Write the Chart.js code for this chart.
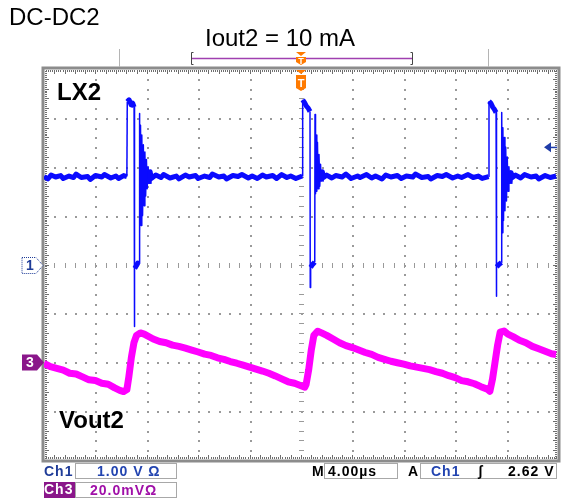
<!DOCTYPE html>
<html>
<head>
<meta charset="utf-8">
<title>DC-DC2 LX2 / Vout2</title>
<script src="https://cdn.jsdelivr.net/npm/chart.js@4.4.1/dist/chart.umd.min.js"></script>
<style>
  html, body { margin: 0; padding: 0; background: #fff; }
  #wrap { position: relative; width: 566px; height: 502px; overflow: hidden;
          font-family: "Liberation Sans", Arial, sans-serif; color: #000; }
  #scope { position: absolute; left: 0; top: 0; }
  .lbl { position: absolute; white-space: nowrap; line-height: 1; }
  .ro { position: absolute; white-space: nowrap; line-height: 14px; font-size: 14px;
        font-weight: bold; letter-spacing: 1px; }
  .box { position: absolute; box-sizing: border-box; border: 1px solid #a8a8a8; height: 16px; }
</style>
</head>
<body>
<div id="wrap">
  <canvas id="scope" width="566" height="502"></canvas>

  <div class="lbl" style="left:9px;top:5px;font-size:24px">DC-DC2</div>
  <div class="lbl" style="left:205px;top:26px;font-size:24px">Iout2 = 10 mA</div>
  <div class="lbl" style="left:57px;top:80px;font-size:24px;font-weight:bold">LX2</div>
  <div class="lbl" style="left:59px;top:408px;font-size:24px;font-weight:bold">Vout2</div>

  <!-- readouts -->
  <div class="ro" style="left:44px;top:464px;color:#1f3c98">Ch1</div>
  <div class="box" style="left:75px;top:463px;width:102px"></div>
  <div class="ro" style="left:97px;top:464px;color:#2244b0">1.00 V Ω</div>

  <div class="ro" style="left:312px;top:464px">M</div>
  <div class="box" style="left:324px;top:463px;width:74px"></div>
  <div class="ro" style="left:328px;top:464px">4.00µs</div>

  <div class="ro" style="left:408px;top:464px">A</div>
  <div class="box" style="left:420px;top:463px;width:137px"></div>
  <div class="ro" style="left:431px;top:464px;color:#2244b0">Ch1</div>
  <div class="ro" style="left:478px;top:464px">ʃ</div>
  <div class="ro" style="left:508px;top:464px">2.62 V</div>

  <div class="ro" style="left:44px;top:482px;width:31px;height:16px;background:#8a168a;color:#fff">Ch3</div>
  <div class="box" style="left:75px;top:482px;width:102px"></div>
  <div class="ro" style="left:90px;top:483px;color:#a010a8">20.0mVΩ</div>
</div>

<script>
// screen: 10 x 8 divisions
const timeRange = [0, 40];      // µs (4.00 µs/div)
const ch1Range = [-4, 4];       // V  (1.00 V/div, ground at centre)
const ch3Range = [-40, 120];    // mV (20.0 mV/div, ground 2 div below centre)
const xDivs = 10;
const yDivs = 8;
const trigTime = 20;            // µs, trigger point "T"
const trigMarkV = 2.4;          // V, where the trigger level arrow sits on screen

// LX2 switching node, Ch1 [µs, V]
const lxSamples = [
  [0, 1.80], [0.3, 1.75], [0.55, 1.83], [0.9, 1.79], [1.3, 1.82], [1.5, 1.76], [1.95, 1.81],
  [2.3, 1.78], [2.5, 1.85], [2.9, 1.78], [3.4, 1.80], [3.6, 1.74], [4.0, 1.82], [4.5, 1.79],
  [4.7, 1.84], [5.2, 1.77], [5.6, 1.81], [5.8, 1.76], [6.2, 1.82], [6.45, 1.80],
  // pulse 1
  [6.48, 3.33], [6.62, 3.37], [6.78, 3.27], [6.9, 3.30], [7.01, 3.22], [7.03, -1.27],
  [7.06, -0.08], [7.2, -0.02], [7.3, 0.03], [7.40, 0.02], [7.42, 3.09], [7.46, 0.61],
  [7.51, 2.85], [7.56, 0.80], [7.61, 2.65], [7.67, 1.0], [7.73, 2.45], [7.79, 1.2],
  [7.85, 2.3], [7.91, 1.4], [7.97, 2.15], [8.03, 1.55], [8.1, 2.0], [8.18, 1.65],
  [8.26, 1.9], [8.35, 1.76],
  [8.7, 1.83], [9.1, 1.78], [9.3, 1.84], [9.8, 1.77], [10.3, 1.81], [10.5, 1.75],
  [11.0, 1.83], [11.3, 1.79], [11.8, 1.82], [12.0, 1.76], [12.5, 1.81], [12.9, 1.78],
  [13.1, 1.85], [13.6, 1.79], [14.0, 1.81], [14.2, 1.75], [14.7, 1.82], [15.1, 1.80],
  [15.4, 1.84], [15.9, 1.77], [16.2, 1.81], [16.6, 1.76], [17.0, 1.83], [17.3, 1.79],
  [17.8, 1.82], [18.1, 1.76], [18.5, 1.84], [18.9, 1.78], [19.2, 1.81], [19.6, 1.76],
  [20.1, 1.81],
  // pulse 2
  [20.13, 3.37], [20.28, 3.31], [20.42, 3.24], [20.56, 3.20], [20.70, 3.13], [20.72, -0.47],
  [20.75, -0.06], [20.9, 0.0], [21.07, 0.05], [21.09, 3.07], [21.13, 1.45], [21.18, 2.65],
  [21.23, 1.5], [21.28, 2.5], [21.34, 1.55], [21.40, 2.25], [21.46, 1.6], [21.52, 2.05],
  [21.58, 1.7], [21.66, 1.9], [21.75, 1.78],
  [22.0, 1.83], [22.4, 1.77], [22.7, 1.82], [23.2, 1.79], [23.5, 1.85], [23.9, 1.76],
  [24.4, 1.81], [24.6, 1.78], [25.1, 1.84], [25.5, 1.77], [25.8, 1.81], [26.3, 1.75],
  [26.6, 1.83], [27.0, 1.79], [27.5, 1.82], [27.8, 1.76], [28.2, 1.81], [28.7, 1.79],
  [28.9, 1.85], [29.4, 1.78], [29.9, 1.80], [30.1, 1.75], [30.6, 1.82], [31.0, 1.80],
  [31.3, 1.84], [31.8, 1.77], [32.2, 1.81], [32.5, 1.78], [33.0, 1.84], [33.4, 1.78],
  [33.8, 1.81], [34.1, 1.76], [34.6, 1.80],
  // pulse 3
  [34.63, 3.34], [34.78, 3.30], [34.92, 3.22], [35.06, 3.17], [35.18, 3.11], [35.20, -0.65],
  [35.23, -0.05], [35.4, 0.0], [35.6, 0.04], [35.62, 3.11], [35.66, 0.65], [35.71, 2.8],
  [35.76, 0.9], [35.81, 2.6], [35.87, 1.1], [35.93, 2.4], [35.99, 1.3], [36.05, 2.2],
  [36.11, 1.5], [36.18, 2.0], [36.26, 1.65], [36.35, 1.88], [36.45, 1.78],
  [36.7, 1.83], [37.1, 1.77], [37.4, 1.84], [37.9, 1.79], [38.3, 1.81], [38.5, 1.75],
  [39.0, 1.82], [39.4, 1.78], [39.85, 1.81],
];

// Vout2 ripple, Ch3 AC [µs, mV]
const voutSamples = [
  [0, -0.5], [0.5, -1.8], [1, -2.5], [1.5, -3.2], [2, -4.5], [2.5, -4.8], [3, -6.0],
  [3.5, -7.2], [4, -7.5], [4.5, -8.6], [5, -9.0], [5.5, -10.5], [5.9, -11.5], [6.2, -12.0],
  [6.45, -11.2], [6.6, -6], [6.8, 2], [7.0, 8], [7.2, 11], [7.5, 12], [7.8, 11.5],
  [8.5, 9.5], [9, 8.5], [9.5, 8], [10, 7], [10.5, 6.5], [11, 5.8], [11.5, 5], [12, 4.2],
  [12.5, 3.3], [13, 2.8], [13.5, 1.8], [14, 1.2], [14.5, 0.3], [15, -0.4], [15.5, -1.2],
  [16, -2.0], [16.5, -2.8], [17, -3.6], [17.5, -4.5], [18, -5.6], [18.5, -6.8], [19, -8.0],
  [19.5, -8.6], [20, -9.6], [20.3, -10.2], [20.4, -9], [20.6, -3], [20.8, 5], [21, 11],
  [21.3, 12.7], [21.6, 12], [22, 11], [22.5, 9.5], [23, 8], [23.5, 6.8], [24, 6], [24.5, 5],
  [25, 4], [25.5, 3.2], [26, 2], [26.5, 1.2], [27, 0.4], [27.5, -0.2], [28, -0.8],
  [28.5, -1.5], [29, -2], [29.5, -2.5], [30, -3], [30.5, -3.8], [31, -4.5], [31.5, -5.5],
  [32, -6.3], [32.5, -7.5], [33, -8], [33.5, -8.8], [34, -10], [34.5, -11], [34.7, -11.9],
  [34.9, -7], [35.1, 0], [35.3, 7], [35.5, 12.3], [35.8, 12.8], [36.1, 11.5], [36.5, 10.5],
  [37, 9], [37.5, 8], [38, 6.5], [38.5, 5.5], [39, 4.5], [39.5, 3.5], [39.85, 3.2],
];

const LX_BLUE = "#0a0aff";
const VOUT_MAGENTA = "#ff00ff";
const GRID_DOT = "#9a9a9a";

function pentagon(ctx, x0, y, w, h) {
  ctx.beginPath();
  ctx.moveTo(x0, y - h / 2);
  ctx.lineTo(x0 + w - 7, y - h / 2);
  ctx.lineTo(x0 + w, y);
  ctx.lineTo(x0 + w - 7, y + h / 2);
  ctx.lineTo(x0, y + h / 2);
  ctx.closePath();
}

function trigFlag(ctx, x, top, h) {
  ctx.beginPath();
  ctx.moveTo(x - 5, top);
  ctx.lineTo(x + 5, top);
  ctx.lineTo(x, top + 4);
  ctx.closePath();
  ctx.fill();
  ctx.beginPath();
  ctx.moveTo(x - 5, top + 5);
  ctx.lineTo(x + 5, top + 5);
  ctx.lineTo(x + 5, top + h - 3);
  ctx.lineTo(x, top + h);
  ctx.lineTo(x - 5, top + h - 3);
  ctx.closePath();
  ctx.fill();
}

const scopeDecor = {
  id: "scopeDecor",
  beforeDatasetsDraw(chart) {
    const { ctx, chartArea: a, scales } = chart;
    const xs = scales.x, ys = scales.y;
    const tDiv = (timeRange[1] - timeRange[0]) / xDivs;
    const vDiv = (ch1Range[1] - ch1Range[0]) / yDivs;
    ctx.save();
    ctx.fillStyle = GRID_DOT;
    // vertical graticule lines: dots every minor division
    for (let d = 1; d < xDivs; d++) {
      const px = Math.round(xs.getPixelForValue(timeRange[0] + d * tDiv));
      for (let m = 1; m < yDivs * 5; m++) {
        const py = Math.round(ys.getPixelForValue(ch1Range[0] + (m * vDiv) / 5));
        if (d === xDivs / 2) ctx.fillRect(px - 2, py, 5, 1);
        else ctx.fillRect(px, py, 2, 2);
      }
    }
    // horizontal graticule lines
    for (let d = 1; d < yDivs; d++) {
      const py = Math.round(ys.getPixelForValue(ch1Range[0] + d * vDiv));
      for (let m = 1; m < xDivs * 5; m++) {
        const px = Math.round(xs.getPixelForValue(timeRange[0] + (m * tDiv) / 5));
        if (d === yDivs / 2) ctx.fillRect(px, py - 2, 1, 5);
        else ctx.fillRect(px, py, 2, 2);
      }
    }
    // frame with ruler ticks
    ctx.strokeStyle = "#8c8c8c";
    ctx.lineWidth = 3;
    ctx.strokeRect(a.left - 1, a.top - 1, a.right - a.left + 2, a.bottom - a.top + 2);
    ctx.fillStyle = "#6e6e6e";
    for (let m = 1; m < xDivs * 25; m++) {
      const px = Math.round(xs.getPixelForValue(timeRange[0] + (m * tDiv) / 25));
      const len = m % 5 === 0 ? 4 : 2;
      ctx.fillRect(px, a.top + 1, 1, len);
      ctx.fillRect(px, a.bottom - 1 - len, 1, len);
    }
    for (let m = 1; m < yDivs * 25; m++) {
      const py = Math.round(ys.getPixelForValue(ch1Range[0] + (m * vDiv) / 25));
      const len = m % 5 === 0 ? 4 : 2;
      ctx.fillRect(a.left + 1, py, len, 1);
      ctx.fillRect(a.right - 1 - len, py, len, 1);
    }
    ctx.restore();
  },
  afterDatasetsDraw(chart) {
    const { ctx, chartArea: a, scales } = chart;
    ctx.save();
    ctx.textAlign = "center";
    ctx.textBaseline = "middle";
    ctx.font = "bold 14px 'Liberation Sans', Arial, sans-serif";

    // channel 1 ground marker
    const g1 = Math.round(scales.y.getPixelForValue(0)) + 0.5;
    pentagon(ctx, a.left - 22, g1, 21, 16);
    ctx.fillStyle = "#fff";
    ctx.fill();
    ctx.setLineDash([1, 1]);
    ctx.strokeStyle = "#1f3c98";
    ctx.lineWidth = 1;
    ctx.stroke();
    ctx.setLineDash([]);
    ctx.fillStyle = "#1f3c98";
    ctx.fillText("1", a.left - 14, g1 + 1);

    // channel 3 ground marker
    const g3 = Math.round(scales.y3.getPixelForValue(0)) + 0.5;
    pentagon(ctx, a.left - 22, g3, 22, 16);
    ctx.fillStyle = "#8a168a";
    ctx.fill();
    ctx.fillStyle = "#fff";
    ctx.fillText("3", a.left - 14, g3 + 1);

    // trigger level arrow
    const tl = scales.y.getPixelForValue(trigMarkV);
    ctx.fillStyle = "#1f3ca8";
    ctx.beginPath();
    ctx.moveTo(a.right - 14, tl);
    ctx.lineTo(a.right - 7, tl - 5);
    ctx.lineTo(a.right - 7, tl + 5);
    ctx.closePath();
    ctx.fill();
    ctx.fillRect(a.right - 7, tl - 0.5, 6, 1.5);

    // trigger position flag
    const tx = scales.x.getPixelForValue(trigTime);
    ctx.fillStyle = "#ff7a00";
    trigFlag(ctx, tx, a.top + 1, 21);
    ctx.fillStyle = "#fff";
    ctx.font = "bold 11px 'Liberation Sans', Arial, sans-serif";
    ctx.fillText("T", tx, a.top + 15);
    ctx.restore();
  },
  afterDraw(chart) {
    // record view bar above the screen
    const { ctx, chartArea: a, scales } = chart;
    const tx = scales.x.getPixelForValue(trigTime);
    const w = a.right - a.left;
    const barY = a.top - 10.5;
    ctx.save();
    ctx.strokeStyle = "#b4b4b4";
    ctx.lineWidth = 1;
    [a.left + w * 0.145, a.left + w * 0.863].forEach((x) => {
      ctx.beginPath();
      ctx.moveTo(Math.round(x) + 0.5, a.top - 20);
      ctx.lineTo(Math.round(x) + 0.5, a.top - 2);
      ctx.stroke();
    });
    const l = Math.round(a.left + w * 0.286) + 0.5, r = Math.round(a.left + w * 0.716) + 0.5;
    ctx.strokeStyle = "#a040b0";
    ctx.lineWidth = 1.5;
    ctx.beginPath();
    ctx.moveTo(l, barY);
    ctx.lineTo(r, barY);
    ctx.stroke();
    ctx.strokeStyle = "#444";
    ctx.lineWidth = 1;
    ctx.beginPath();
    ctx.moveTo(l + 2, barY - 6); ctx.lineTo(l, barY - 6); ctx.lineTo(l, barY + 6); ctx.lineTo(l + 2, barY + 6);
    ctx.moveTo(r - 2, barY - 6); ctx.lineTo(r, barY - 6); ctx.lineTo(r, barY + 6); ctx.lineTo(r - 2, barY + 6);
    ctx.stroke();
    ctx.fillStyle = "#ff7a00";
    trigFlag(ctx, tx, a.top - 17, 13);
    ctx.fillStyle = "#fff";
    ctx.font = "bold 9px 'Liberation Sans', Arial, sans-serif";
    ctx.textAlign = "center";
    ctx.textBaseline = "middle";
    ctx.fillText("T", tx, a.top - 7);
    ctx.restore();
  },
};

new Chart(document.getElementById("scope"), {
  type: "line",
  data: {
    datasets: [
      {
        label: "LX2",
        data: lxSamples.map(([t, v]) => ({ x: t, y: v })),
        yAxisID: "y",
        borderColor: LX_BLUE,
        borderWidth: 1.5,
        borderJoinStyle: "round",
        segment: {
          // noisy flat parts of the trace show as a thick band
          borderWidth: (ctx) => (Math.abs(ctx.p1.parsed.y - ctx.p0.parsed.y) < 0.3 ? 5 : 1.5),
        },
      },
      {
        label: "Vout2",
        data: voutSamples.map(([t, mv]) => ({ x: t, y: mv })),
        yAxisID: "y3",
        borderColor: VOUT_MAGENTA,
        borderWidth: 7,
        borderJoinStyle: "round",
      },
    ],
  },
  options: {
    responsive: false,
    animation: false,
    parsing: false,
    layout: { padding: { left: 44, top: 69, right: 8, bottom: 42 } },
    elements: { point: { radius: 0 }, line: { tension: 0 } },
    plugins: { legend: { display: false }, tooltip: { enabled: false } },
    scales: {
      x: { type: "linear", min: timeRange[0], max: timeRange[1], display: false },
      y: { type: "linear", min: ch1Range[0], max: ch1Range[1], display: false },
      y3: { type: "linear", min: ch3Range[0], max: ch3Range[1], display: false },
    },
  },
  plugins: [scopeDecor],
});
</script>
</body>
</html>
